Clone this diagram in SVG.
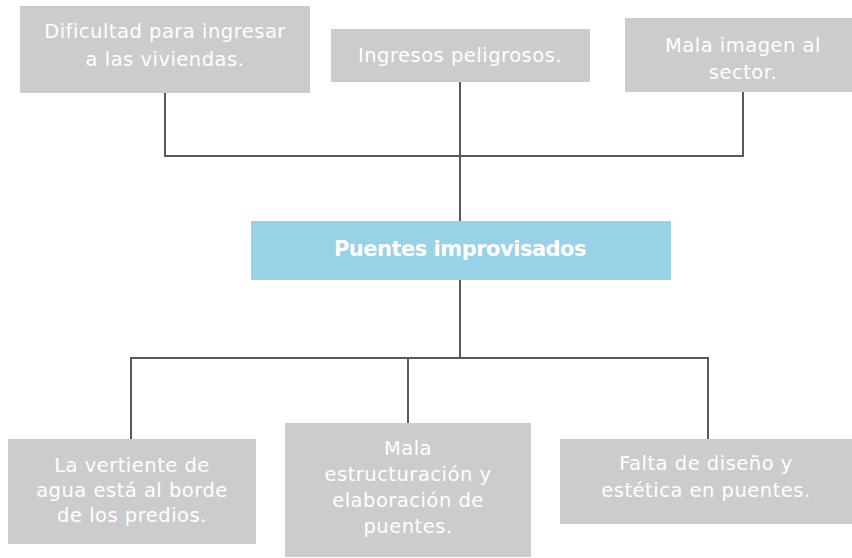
<svg xmlns="http://www.w3.org/2000/svg" width="852" height="558" viewBox="0 0 852 558">
<style>
.box{fill:#cccccc}
.main{fill:#98d2e7}
.t{font-family:"DejaVu Sans",sans-serif;font-size:19.5px;fill:#ffffff;text-anchor:middle;letter-spacing:0.5px}
.tb{font-family:"DejaVu Sans",sans-serif;font-size:21px;font-weight:bold;fill:#ffffff;text-anchor:middle;letter-spacing:-0.5px}
.c{fill:none;stroke:#595959;stroke-width:2}
</style>
<rect width="852" height="558" fill="#ffffff"/>
<g id="connectors">
<path class="c" d="M165 93V156H743V92"/>
<path class="c" d="M460 82V221"/>
<path class="c" d="M460 280V358"/>
<path class="c" d="M131 439V358H708V439"/>
<path class="c" d="M408 358V423"/>
</g>
<g id="n1"><rect class="box" x="20" y="6" width="290" height="87"/>
<text class="t" x="165" y="38">Dificultad para ingresar</text>
<text class="t" x="165" y="66">a las viviendas.</text></g>
<g id="n2"><rect class="box" x="331" y="29" width="259" height="53"/>
<text class="t" x="460" y="62">Ingresos peligrosos.</text></g>
<g id="n3"><rect class="box" x="625" y="18" width="227" height="74"/>
<text class="t" x="743" y="52">Mala imagen al</text>
<text class="t" x="743" y="79">sector.</text></g>
<g id="n4"><rect class="main" x="251" y="221" width="420" height="59"/>
<text class="tb" x="460" y="256">Puentes improvisados</text></g>
<g id="n5"><rect class="box" x="8" y="439" width="248" height="105"/>
<text class="t" x="132" y="472">La vertiente de</text>
<text class="t" x="132" y="497">agua está al borde</text>
<text class="t" x="132" y="522">de los predios.</text></g>
<g id="n6"><rect class="box" x="285" y="423" width="246" height="134"/>
<text class="t" x="408" y="455">Mala</text>
<text class="t" x="408" y="481">estructuración y</text>
<text class="t" x="408" y="507">elaboración de</text>
<text class="t" x="408" y="533">puentes.</text></g>
<g id="n7"><rect class="box" x="560" y="439" width="292" height="85"/>
<text class="t" x="706" y="470">Falta de diseño y</text>
<text class="t" x="706" y="497">estética en puentes.</text></g>
</svg>
